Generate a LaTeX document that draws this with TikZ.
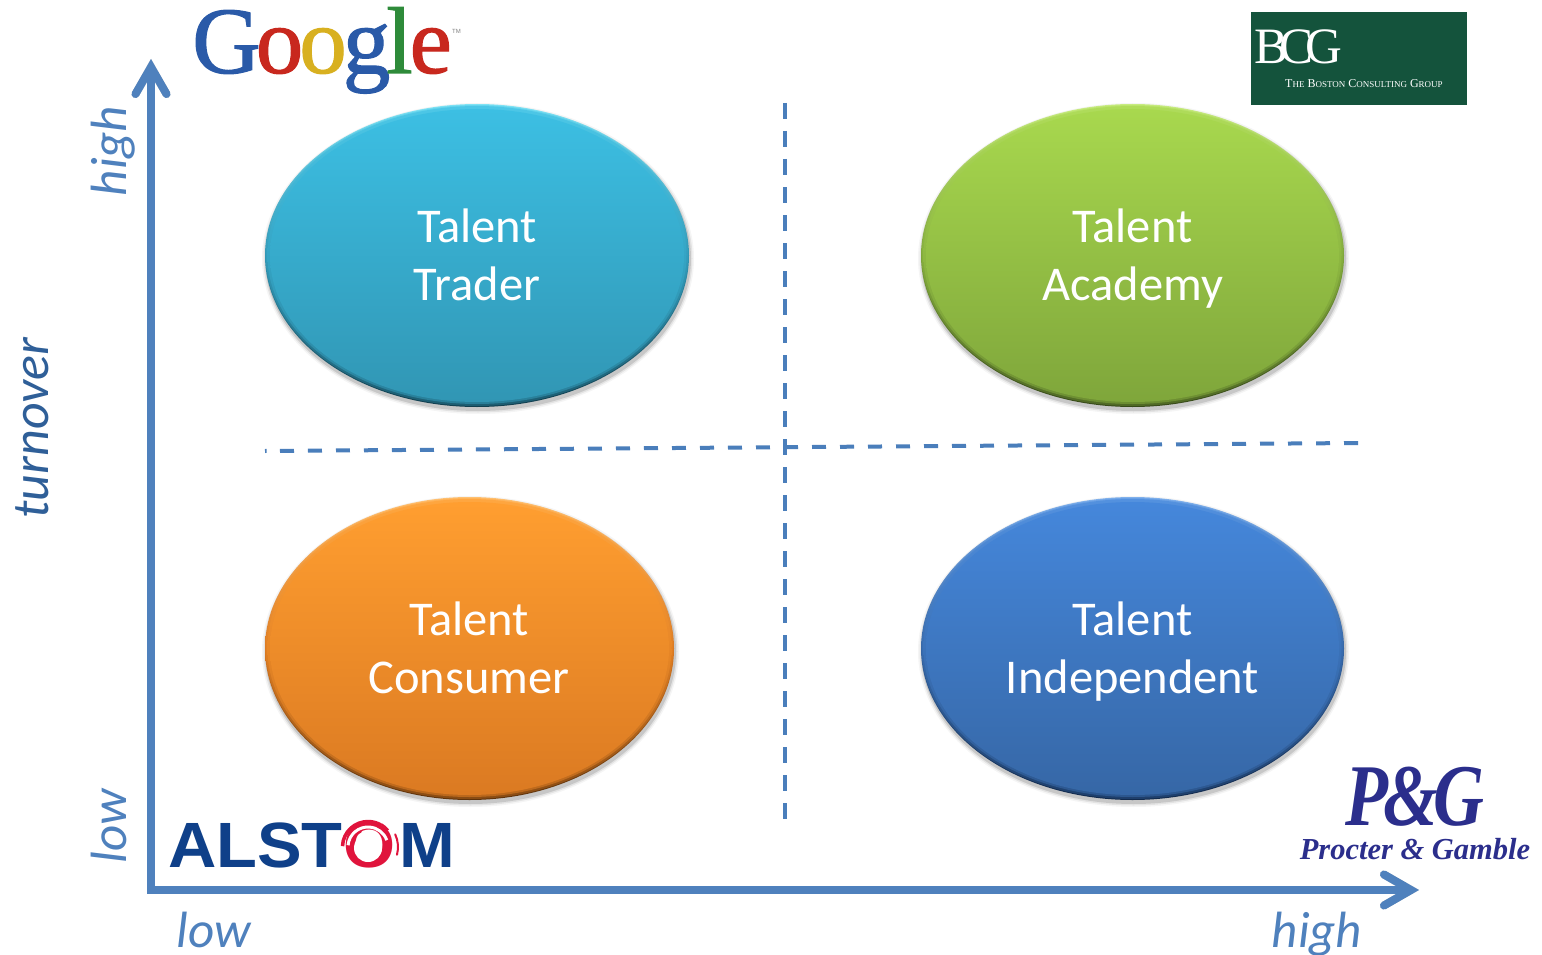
\documentclass[tikz,border=0pt]{standalone}
\usepackage{fontspec}
\setmainfont{Carlito}
\newfontfamily\serifx{Liberation Serif}
\newfontfamily\serifg[FakeBold=1.2]{Liberation Serif}
\newfontfamily\sansx{Liberation Sans}
\usetikzlibrary{shapes.geometric,arrows.meta,calc}
\definecolor{axisblue}{HTML}{4F81BD}
\definecolor{dashblue}{HTML}{4A7EBB}
\definecolor{turnblue}{HTML}{2F5F98}
\definecolor{gblue}{HTML}{2A5AA8}
\definecolor{gred}{HTML}{C8281E}
\definecolor{gyellow}{HTML}{D8B020}
\definecolor{ggreen}{HTML}{2E8B3A}
\definecolor{bcggreen}{HTML}{14533C}
\definecolor{alsblue}{HTML}{0F4089}
\definecolor{alsred}{HTML}{E0143C}
\definecolor{pgblue}{HTML}{2B2E8C}
\tikzset{
  x=1pt,y=-1pt,
  orbtext/.style={ellipse,inner sep=0pt,minimum width=2*#1,text=white,align=center,font=\fontsize{48.5}{58}\selectfont},
  axisline/.style={draw=axisblue,line width=8pt,-{Straight Barb[length=27pt,width=31pt,line cap=round]}},
  axisshade/.style={draw=black,opacity=#1,line width=8pt,-{Straight Barb[length=27pt,width=31pt,line cap=round]}},
  dashline/.style={draw=dashblue,line width=4pt,dash pattern=on 16pt off 12pt},
  dashseg/.style={draw=dashblue,line width=4pt},
  axislabel/.style={text=axisblue,inner sep=0pt,font=\fontsize{51}{51}\selectfont\itshape},
}
% cx cy rx ry  top bottom rimtop rimbottom  node
\newcommand{\orb}[9]{%
  \definecolor{orbtop}{HTML}{#5}\definecolor{orbbot}{HTML}{#6}%
  \definecolor{rimtop}{HTML}{#7}\definecolor{rimbot}{HTML}{#8}%
  \foreach \g/\o in {4/.04,2.5/.07,1/.12}{
    \fill[black,opacity=\o] (#1+1,#2+3) ellipse [x radius=#3+\g,y radius=#4+\g];
  }
  \shade[top color=rimtop,bottom color=rimbot,middle color=orbbot] (#1,#2) ellipse [x radius=#3,y radius=#4];
  \shade[top color=orbtop,bottom color=orbbot,opacity=.35] (#1,#2) ellipse [x radius=#3-1,y radius=#4-1];
  \shade[top color=orbtop,bottom color=orbbot,opacity=.6] (#1,#2-.5) ellipse [x radius=#3-2.5,y radius=#4-2.5];
  \shade[top color=orbtop,bottom color=orbbot] (#1,#2) ellipse [x radius=#3-5,y radius=#4-5];
  #9
}
\begin{document}
\begin{tikzpicture}
\useasboundingbox (0,0) rectangle (1542,955);
\fill[white] (0,0) rectangle (1542,955);

% dashed dividers
\coordinate (vtop) at (785,103);
\coordinate (vbot) at (785,820);
\coordinate (hleft) at (265,451);
\coordinate (hright) at (1359,443);
\draw[dashline] (vtop) -- (vbot);
\draw[dashseg] (hleft) -- ($(hleft)!0.0015!(hright)$);
\foreach \k in {0,...,38}{
  \draw[dashseg] ($(hleft)!{(15+28*\k)/1094}!(hright)$) -- ($(hleft)!{(29+28*\k)/1094}!(hright)$);
}

% ellipses
\orb{477}{255.5}{212}{151.5}{3CBFE3}{3196B4}{7FE3F5}{123E4E}{%
  \node[orbtext=212pt] (trader) at (477,255) {Talent\\Trader};}
\orb{1132.5}{255.5}{211.5}{151.5}{A8D84E}{7FA63B}{C8EC80}{37491A}{%
  \node[orbtext=211pt] (academy) at (1132.5,259) {Talent\\Academy};}
\orb{469.5}{648.5}{204.5}{151.5}{FF9E30}{DB7A22}{FFC070}{5E330C}{%
  \node[orbtext=204pt] (consumer) at (469,648) {Talent\\Consumer};}
\orb{1132.5}{648.5}{211.5}{151.5}{4587DB}{3667A6}{7FB0EC}{122A4C}{%
  \node[orbtext=211pt] (independent) at (1132.5,652) {Talent\\Independent};}

% axes
\coordinate (origin) at (151,890);
\coordinate (cornerx) at (147,890);
\coordinate (ytip) at (151,59);
\coordinate (xtip) at (1419,890);
\begin{scope}[shift={(3,4)}]
  \draw[axisshade=.10] (cornerx) -- (xtip);
  \draw[axisshade=.10] (origin) -- (ytip);
\end{scope}
\begin{scope}[shift={(1.5,2)}]
  \draw[axisshade=.12] (cornerx) -- (xtip);
  \draw[axisshade=.12] (origin) -- (ytip);
\end{scope}
\draw[axisline] (cornerx) -- (xtip);
\draw[axisline] (origin) -- (ytip);

% axis labels
\node[axislabel,rotate=90,anchor=base] (yhigh) at (126,151) {high};
\node[axislabel,rotate=90,anchor=base] (ylow) at (126,826) {low};
\node[axislabel,anchor=base] (xlow) at (214,947) {low};
\node[axislabel,anchor=base] (xhigh) at (1317,947) {high};
\node[axislabel,rotate=90,anchor=base,text=turnblue,font=\fontsize{52}{52}\selectfont\itshape] (turn) at (48,428) {turnover};

% Google
\node[inner sep=0pt,anchor=base west,font=\serifg\fontsize{95}{95}\selectfont] (google) at (192,73)
  {\textcolor{gblue}{G}\kern-5pt\textcolor{gred}{o}\kern-4pt\textcolor{gyellow}{o}\kern-4pt\textcolor{gblue}{g}\kern-4pt\textcolor{ggreen}{l}\kern-3pt\textcolor{gred}{e}};
\node[inner sep=0pt,anchor=base west,text=gray,font=\sansx\fontsize{6}{6}\selectfont] (tm) at (452,34) {TM};

% BCG
\fill[bcggreen] (1251,12) rectangle (1467,105);
\node[inner sep=0pt,anchor=base west,text=white,font=\serifx\fontsize{51}{51}\selectfont] (bcg) at (1254,64)
  {B\kern-9pt C\kern-8pt G};
\node[inner sep=0pt,anchor=base west,text=white,font=\serifx\fontsize{12}{12}\selectfont] (bcgname) at (1285,88)
  {T{\fontsize{9}{9}\selectfont HE} B{\fontsize{9}{9}\selectfont OSTON} C{\fontsize{9}{9}\selectfont ONSULTING} G{\fontsize{9}{9}\selectfont ROUP}};

% Alstom
\node[inner sep=0pt,anchor=base west,text=alsblue,font=\sansx\bfseries\fontsize{64}{64}\selectfont] (alstom) at (168,867)
  {\scalebox{1.045}[1]{ALST\kern1pt\textcolor{alsred}{O}\kern3pt M}};
\coordinate (swirl) at (368,847);
\fill[white] ($(swirl)+(0,1)$) circle [radius=14];
\draw[white,line width=3pt] ([shift=(-175:20)]swirl) arc (-175:-20:20);
\draw[alsred,line width=3.5pt] ([shift=(-178:25.5)]swirl) arc (-178:-60:25.5);
\draw[alsred,line width=2pt] ([shift=(-60:26.5)]swirl) arc (-60:-40:26.5);
\draw[alsred,line width=2pt,line cap=round] ([shift=(-25:30)]swirl) arc (-25:15:30);
\draw[alsred,line width=2pt,line cap=round] ([shift=(-165:17)]swirl) arc (-165:-115:17);

% P&G
\node[inner sep=0pt,anchor=base,text=pgblue,font=\serifx\bfseries\itshape\fontsize{88}{88}\selectfont] (pg) at (1415,825)
  {\scalebox{.8}[1]{P\kern-6pt\&\kern-6pt G}};
\node[inner sep=0pt,anchor=base,text=pgblue,font=\serifx\bfseries\itshape\fontsize{30.5}{30}\selectfont] (pgname) at (1415,859)
  {Procter \& Gamble};
\end{tikzpicture}
\end{document}
